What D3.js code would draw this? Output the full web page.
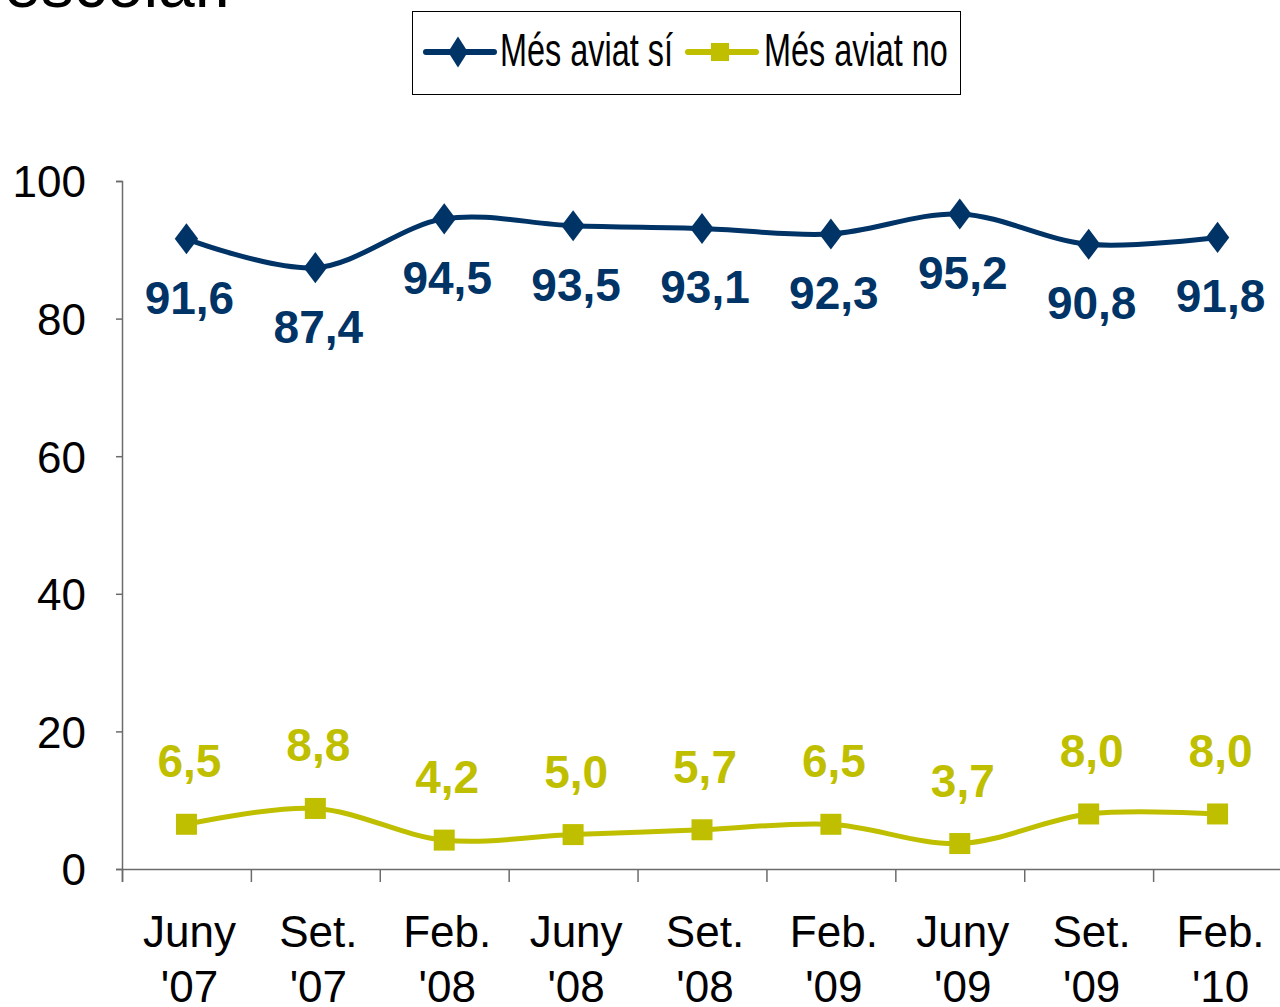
<!DOCTYPE html>
<html><head><meta charset="utf-8">
<script src="https://cdn.jsdelivr.net/npm/d3@7"></script>
<style>html,body{margin:0;padding:0;background:#fff;overflow:hidden}</style>
</head><body>
<svg id="chart" width="1280" height="1007"></svg>
<script>
const catMonths = ["Juny","Set.","Feb.","Juny","Set.","Feb.","Juny","Set.","Feb."];
const catYears = ["'07","'07","'08","'08","'08","'09","'09","'09","'10"];
const siValues = [91.6, 87.4, 94.5, 93.5, 93.1, 92.3, 95.2, 90.8, 91.8];
const noValues = [6.5, 8.8, 4.2, 5.0, 5.7, 6.5, 3.7, 8.0, 8.0];
const yTicks = [0, 20, 40, 60, 80, 100];
const seriesNames = ["Més aviat sí", "Més aviat no"];

const navy = "#003366", olive = "#BFBF00";
const svg = d3.select("#chart");
const font = "Arial, 'Liberation Sans', sans-serif";

const x0 = 122, x1 = 1282, yTop = 181, yBot = 869;
const xBand = d3.scaleBand().domain(d3.range(catMonths.length)).range([x0, x1]).padding(0);
const xEdge = d3.scaleLinear().domain([0, catMonths.length]).range([x0, x1]);
const y = d3.scaleLinear().domain([0, 100]).range([yBot, yTop]);
const cx = i => xBand(i) + xBand.bandwidth() / 2;

// Cut-off title
svg.append("text").attr("x", 4).attr("y", 7).attr("font-family", font)
  .attr("font-size", 66).attr("fill", "#000").text("escolar.");

// Y axis
const yAxis = svg.append("g").attr("transform", `translate(${x0},0)`)
  .call(d3.axisLeft(y).tickValues(yTicks).tickSize(6).tickPadding(30).tickFormat(d3.format("d")));
yAxis.select(".domain").attr("stroke", "#6b6b6b").attr("stroke-width", 1.5);
yAxis.selectAll(".tick line").attr("stroke", "#6b6b6b").attr("stroke-width", 1.5);
yAxis.selectAll(".tick text").attr("font-family", font).attr("font-size", 44).attr("fill", "#000").attr("dy", "0.36em");

// X axis
const xAxis = svg.append("g").attr("transform", `translate(0,${yBot})`)
  .call(d3.axisBottom(xEdge).tickValues(d3.range(0, catMonths.length + 1)).tickSize(13).tickFormat(""));
xAxis.select(".domain").attr("stroke", "#6b6b6b").attr("stroke-width", 1.5);
xAxis.selectAll(".tick line").attr("stroke", "#6b6b6b").attr("stroke-width", 1.5);

const xl = svg.append("g");
catMonths.forEach((m, i) => {
  xl.append("text").attr("x", cx(i) + 3).attr("y", 947).attr("text-anchor", "middle")
    .attr("font-family", font).attr("font-size", 44).attr("fill", "#000").text(m);
  xl.append("text").attr("x", cx(i) + 3).attr("y", 1002).attr("text-anchor", "middle")
    .attr("font-family", font).attr("font-size", 44).attr("fill", "#000").text(catYears[i]);
});

// Lines
const line = d3.line().x((d, i) => cx(i)).y(d => y(d)).curve(d3.curveCatmullRom.alpha(0.5));
svg.append("path").datum(siValues).attr("d", line).attr("fill", "none")
  .attr("stroke", navy).attr("stroke-width", 5).attr("stroke-linejoin", "round");
svg.append("path").datum(noValues).attr("d", line).attr("fill", "none")
  .attr("stroke", olive).attr("stroke-width", 5).attr("stroke-linejoin", "round");

const diamond = d3.symbol().type(d3.symbolDiamond).size(280);
svg.append("g").selectAll("path").data(siValues).join("path")
  .attr("d", diamond).attr("transform", (d, i) => `translate(${cx(i)},${y(d)}) scale(1.3,1)`)
  .attr("fill", navy);
svg.append("g").selectAll("rect").data(noValues).join("rect")
  .attr("x", (d, i) => cx(i) - 10.5).attr("y", d => y(d) - 10.5).attr("width", 21).attr("height", 21)
  .attr("fill", olive);

const fmt = v => v.toFixed(1).replace(".", ",");
svg.append("g").selectAll("text").data(siValues).join("text")
  .attr("x", (d, i) => cx(i) + 3).attr("y", d => y(d) + 75).attr("text-anchor", "middle")
  .attr("font-family", font).attr("font-weight", "bold").attr("font-size", 46).attr("fill", navy)
  .text(fmt);
svg.append("g").selectAll("text").data(noValues).join("text")
  .attr("x", (d, i) => cx(i) + 3).attr("y", d => y(d) - 47).attr("text-anchor", "middle")
  .attr("font-family", font).attr("font-weight", "bold").attr("font-size", 46).attr("fill", olive)
  .text(fmt);

// Legend
const lg = svg.append("g");
lg.append("rect").attr("x", 412.5).attr("y", 11.5).attr("width", 548).attr("height", 83)
  .attr("fill", "#fff").attr("stroke", "#000").attr("stroke-width", 1);
const ly = 52;
lg.append("line").attr("x1", 426).attr("x2", 494).attr("y1", ly).attr("y2", ly)
  .attr("stroke", navy).attr("stroke-width", 6).attr("stroke-linecap", "round");
lg.append("path").attr("d", diamond).attr("transform", `translate(458,${ly}) scale(1.1,1)`).attr("fill", navy);
lg.append("text").attr("transform", `translate(500,66) scale(0.69,1)`)
  .attr("font-family", font).attr("font-size", 47).attr("fill", "#000").text(seriesNames[0]);
lg.append("line").attr("x1", 688).attr("x2", 756).attr("y1", ly).attr("y2", ly)
  .attr("stroke", olive).attr("stroke-width", 6).attr("stroke-linecap", "round");
lg.append("rect").attr("x", 711).attr("y", ly - 9).attr("width", 18).attr("height", 18).attr("fill", olive);
lg.append("text").attr("transform", `translate(764,66) scale(0.69,1)`)
  .attr("font-family", font).attr("font-size", 47).attr("fill", "#000").text(seriesNames[1]);
</script>
</body></html>
